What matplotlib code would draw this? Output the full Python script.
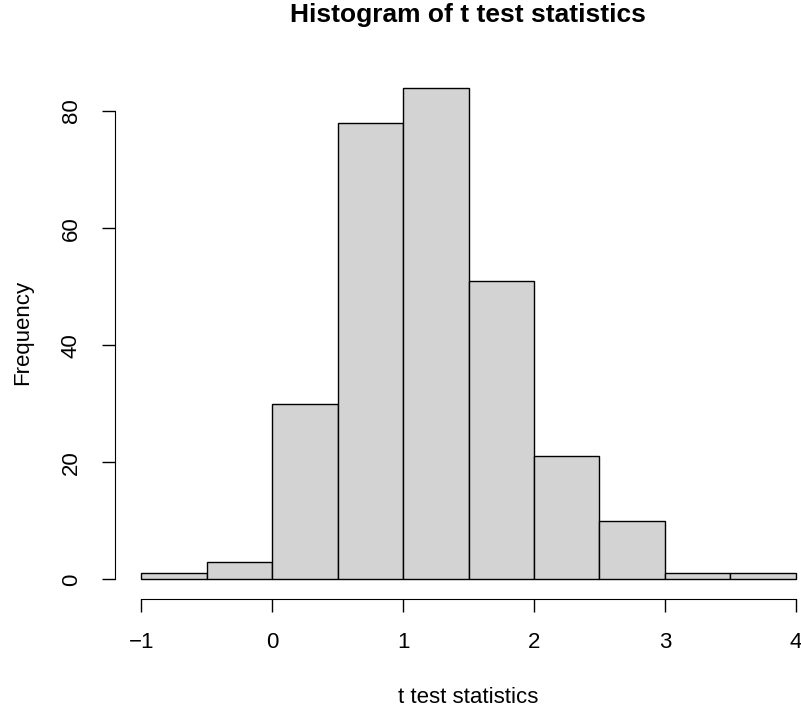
import matplotlib.pyplot as plt
import numpy as np

# histogram of t test statistics (bin edges and counts)
bin_edges = [-1.0, -0.5, 0.0, 0.5, 1.0, 1.5, 2.0, 2.5, 3.0, 3.5, 4.0]
counts = [1, 3, 30, 78, 84, 51, 21, 10, 1, 1]
x_ticks = [-1, 0, 1, 2, 3, 4]
x_tick_labels = ["\u22121", "0", "1", "2", "3", "4"]
y_ticks = [0, 20, 40, 60, 80]

plt.rcParams["font.family"] = ["Liberation Sans", "DejaVu Sans"]

W, H = 801, 715
fig = plt.figure(figsize=(W / 100, H / 100), dpi=100)
# axes box in pixels (R-style usr with 4% padding)
left, right, top, bottom = 115, 822, 68, 599
ax = fig.add_axes([left / W, (H - bottom) / H, (right - left) / W, (bottom - top) / H])

widths = np.diff(bin_edges)
ax.bar(bin_edges[:-1], counts, width=widths, align="edge",
       color="#d3d3d3", edgecolor="black", linewidth=1.0)

ax.set_xlim(-1.2, 4.2)
ax.set_ylim(-3.36, 87.36)

for side in ["top", "right"]:
    ax.spines[side].set_visible(False)
ax.spines["left"].set_bounds(0, 80)
ax.spines["bottom"].set_bounds(-1, 4)

ax.set_xticks(x_ticks)
ax.set_xticklabels(x_tick_labels)
ax.set_yticks(y_ticks)
ax.set_yticklabels([str(v) for v in y_ticks], rotation=90, va="center")
ax.tick_params(axis="both", length=9.5, width=1.0, labelsize=16, pad=14.4)

fig.text(468 / W, 1 - 22 / H, "Histogram of t test statistics", ha="center", va="baseline",
         fontsize=19, fontweight="bold")
fig.text(468 / W, 1 - 703 / H, "t test statistics", ha="center", va="baseline", fontsize=16)
fig.text(23 / W, 1 - 332 / H, "Frequency", ha="center", va="center", rotation=90, fontsize=16)

fig.savefig("out.png", dpi=100)
